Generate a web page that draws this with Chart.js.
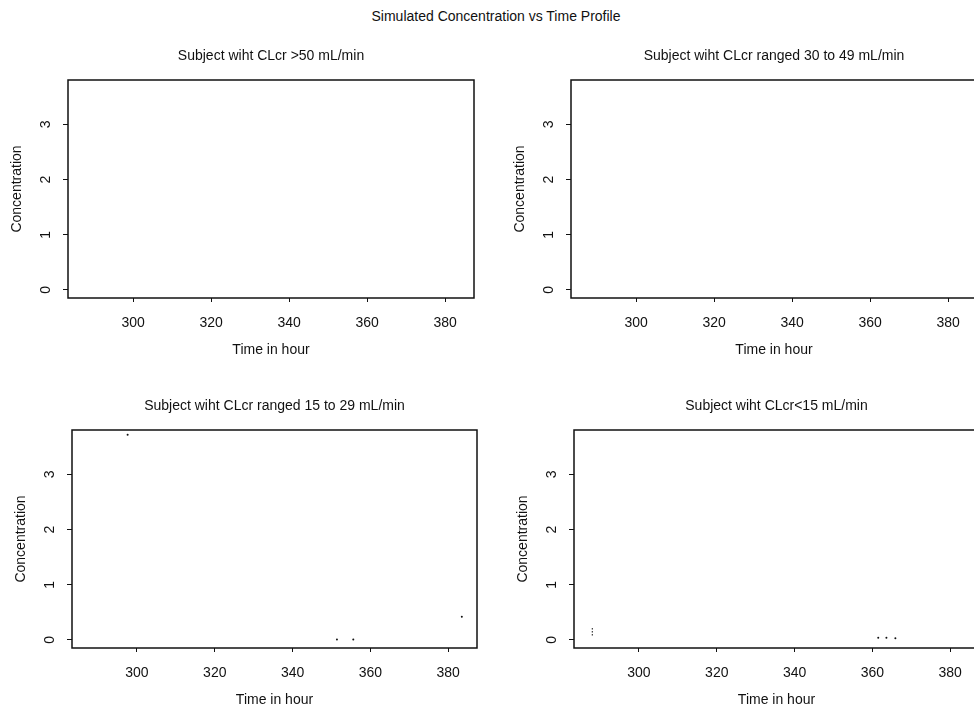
<!DOCTYPE html>
<html>
<head>
<meta charset="utf-8">
<title>Simulated Concentration vs Time Profile</title>
<script src="https://cdn.jsdelivr.net/npm/chart.js@4.4.1/dist/chart.umd.min.js"></script>
<style>
  html, body { margin: 0; padding: 0; background: #fff; overflow: hidden; }
  #page { position: relative; width: 974px; height: 707px; overflow: hidden; }
  #main-title {
    position: absolute; left: 18px; top: 8px; width: 956px; text-align: center;
    font: 14px "Liberation Sans", Arial, sans-serif; line-height: 17px; color: #111;
  }
  #page canvas { position: absolute; }
</style>
</head>
<body>
<div id="page">
  <div id="main-title">Simulated Concentration vs Time Profile</div>
  <canvas id="panel-1" width="480" height="330" style="left:0px;top:30px"></canvas>
  <canvas id="panel-2" width="480" height="330" style="left:503px;top:30px"></canvas>
  <canvas id="panel-3" width="480" height="330" style="left:4px;top:380px"></canvas>
  <canvas id="panel-4" width="480" height="330" style="left:506px;top:380px"></canvas>
</div>
<script>
// axes shared by the four CLcr groups
var TIME_TICKS = [300, 320, 340, 360, 380];
var CONC_TICKS = [0, 1, 2, 3];
var TIME_RANGE = [283.3, 387.4];
var CONC_RANGE = [-0.146, 3.806];

var PANEL_TITLES = [
  'Subject wiht CLcr >50 mL/min',
  'Subject wiht CLcr ranged 30 to 49 mL/min',
  'Subject wiht CLcr ranged 15 to 29 mL/min',
  'Subject wiht CLcr<15 mL/min'
];

// simulated concentrations (hour, conc) per group
var G1_TIME = [];
var G1_CONC = [];
var G2_TIME = [];
var G2_CONC = [];
var G3_TIME = [297.6, 351.4, 355.6, 383.5];
var G3_CONC = [3.72, 0.01, 0.01, 0.42];
var G4_TIME = [361.5, 363.6, 365.9];
var G4_CONC = [0.04, 0.04, 0.03];
var G4_TRACE_TIME = [288, 288];
var G4_TRACE_CONC = [0.08, 0.22];

(function () {
  var INK = '#111';
  Chart.defaults.font.family = '"Liberation Sans", Arial, Helvetica, sans-serif';
  Chart.defaults.color = INK;

  var paneles = [
    { id: 'panel-1', padRight: 6, title: PANEL_TITLES[0], time: G1_TIME, conc: G1_CONC, traceTime: [], traceConc: [] },
    { id: 'panel-2', padRight: 6, title: PANEL_TITLES[1], time: G2_TIME, conc: G2_CONC, traceTime: [], traceConc: [] },
    { id: 'panel-3', padRight: 7, title: PANEL_TITLES[2], time: G3_TIME, conc: G3_CONC, traceTime: [], traceConc: [] },
    { id: 'panel-4', padRight: 7, title: PANEL_TITLES[3], time: G4_TIME, conc: G4_CONC, traceTime: G4_TRACE_TIME, traceConc: G4_TRACE_CONC }
  ];

  // closed box around the plot region, like R's box()
  var marco = {
    id: 'marco',
    afterDraw: function (chart) {
      var a = chart.chartArea;
      var ctx = chart.ctx;
      ctx.save();
      ctx.strokeStyle = INK;
      ctx.lineWidth = 1.5;
      ctx.strokeRect(a.left, a.top, a.right - a.left, a.bottom - a.top);
      ctx.restore();
    }
  };

  function puntos_(xs, ys) {
    return xs.map(function (x, i) { return { x: x, y: ys[i] }; });
  }

  function fijarTicks_(valores) {
    return function (scale) {
      scale.ticks = valores.map(function (v) { return { value: v }; });
    };
  }

  function crearPanel_(p) {
    new Chart(document.getElementById(p.id), {
      type: 'scatter',
      data: {
        datasets: [{
          data: puntos_(p.time, p.conc),
          pointRadius: 1,
          pointBorderWidth: 0,
          pointBackgroundColor: INK,
          showLine: false
        }, {
          data: puntos_(p.traceTime, p.traceConc),
          showLine: true,
          borderColor: INK,
          borderWidth: 1,
          borderDash: [1.5, 1.5],
          pointRadius: 0
        }]
      },
      options: {
        responsive: false,
        animation: false,
        layout: { padding: { left: 0, right: p.padRight, top: 0, bottom: 0 } },
        plugins: {
          legend: { display: false },
          tooltip: { enabled: false },
          title: {
            display: true,
            text: p.title,
            fullSize: false,
            font: { size: 14, weight: 'normal' },
            padding: { top: 17.6, bottom: 15.6 }
          }
        },
        scales: {
          x: {
            type: 'linear',
            min: TIME_RANGE[0],
            max: TIME_RANGE[1],
            afterBuildTicks: fijarTicks_(TIME_TICKS),
            afterFit: function (scale) { scale.height = 62; },
            border: { display: false },
            grid: { drawOnChartArea: false, drawTicks: true, tickLength: 4, tickColor: INK, tickWidth: 1 },
            ticks: { font: { size: 14 }, padding: 12.3, autoSkip: false, maxRotation: 0 },
            title: { display: true, text: 'Time in hour', font: { size: 14 }, padding: { top: 0, bottom: 1.6 } }
          },
          y: {
            type: 'linear',
            min: CONC_RANGE[0],
            max: CONC_RANGE[1],
            afterBuildTicks: fijarTicks_(CONC_TICKS),
            afterFit: function (scale) { scale.width = 68; },
            border: { display: false },
            grid: { drawOnChartArea: false, drawTicks: true, tickLength: 5, tickColor: INK, tickWidth: 1 },
            ticks: { font: { size: 14 }, padding: 13, minRotation: 90, maxRotation: 90, crossAlign: 'center', autoSkip: false },
            title: { display: true, text: 'Concentration', font: { size: 14 }, padding: { top: 9, bottom: 0 } }
          }
        }
      },
      plugins: [marco]
    });
  }

  paneles.forEach(crearPanel_);
})();
</script>
</body>
</html>
